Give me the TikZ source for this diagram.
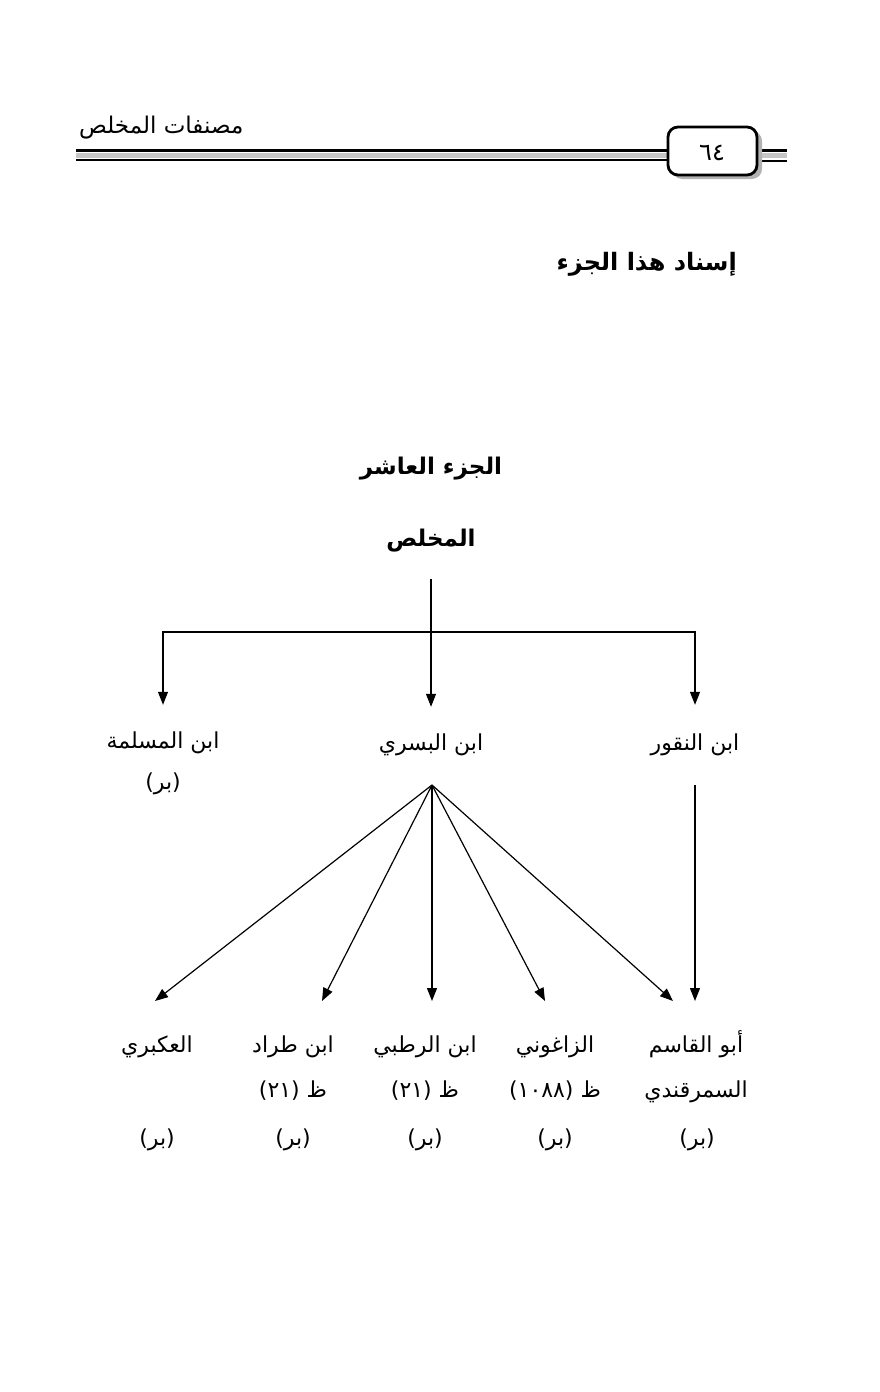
\documentclass[tikz,border=0pt]{standalone}
\usepackage{fontspec}
\usepackage{tikz}
\usetikzlibrary{positioning,arrows.meta}
\newfontfamily\arabicfont[Script=Arabic]{DejaVu Sans}
\TeXXeTstate=1
\newcommand{\artxt}[1]{\beginR #1\endR}

\begin{document}
\begin{tikzpicture}[x=1pt, y=-1pt,
		lbl/.style={font=\arabicfont\fontsize{22}{26}\selectfont, inner sep=0pt, text height=17pt, text depth=7pt},
		ttl/.style={font=\arabicfont\bfseries\fontsize{23}{28}\selectfont, inner sep=0pt, text height=18pt, text depth=8pt},
		arr/.style={-{Triangle[length=13pt,width=10pt]}, line width=1.2pt}
		]
		\useasboundingbox (0,0) rectangle (879,1392);
		% header
		\node[font=\arabicfont\fontsize{23}{27}\selectfont, inner sep=0pt, anchor=west] (book) at (79,128) {\artxt{مصنفات المخلص}};
		\fill[gray!45] (76,153) rectangle (668,158);
		\fill[gray!45] (757,153) rectangle (787,158);
		\draw[line width=3pt] (76,150) -- (668,150) (757,150.5) -- (787,150.5);
		\draw[line width=2.5pt] (76,160) -- (668,160) (757,161) -- (787,161);
		\fill[gray!60, rounded corners=10pt] (672,131) rectangle (762,179);
		\draw[line width=2.8pt, fill=white, rounded corners=10pt] (668,127) rectangle (757,175);
		\node[font=\arabicfont\fontsize{24}{28}\selectfont, inner sep=0pt] (page) at (712,153) {\artxt{٦٤}};
		
		\node[ttl, anchor=east, font=\arabicfont\bfseries\fontsize{24}{28}\selectfont] (isnad) at (737,265) {\artxt{إسناد هذا الجزء}};
		\node[ttl] (juz) at (431,469) {\artxt{الجزء العاشر}};
		\node[ttl] (mukh) at (431,541) {\artxt{المخلص}};
		
		\node[lbl] (muslima) at (163,743) {\artxt{ابن المسلمة}};
		\node[lbl] (muslimaB) at (163,784) {\artxt{(بر)}};
		\node[lbl] (busri) at (431,745) {\artxt{ابن البسري}};
		\node[lbl] (naqqur) at (695,745) {\artxt{ابن النقور}};
		
		\node[lbl] (ukbari) at (157,1047) {\artxt{العكبري}};
		\node[lbl] (ukbariB) at (157,1140) {\artxt{(بر)}};
		\node[lbl] (tarrad) at (293,1047) {\artxt{ابن طراد}};
		\node[lbl] (tarradD) at (293,1092) {\artxt{ظ (٢١)}};
		\node[lbl] (tarradB) at (293,1140) {\artxt{(بر)}};
		\node[lbl] (ratbi) at (425,1047) {\artxt{ابن الرطبي}};
		\node[lbl] (ratbiD) at (425,1092) {\artxt{ظ (٢١)}};
		\node[lbl] (ratbiB) at (425,1140) {\artxt{(بر)}};
		\node[lbl] (zagh) at (555,1047) {\artxt{الزاغوني}};
		\node[lbl] (zaghD) at (555,1092) {\artxt{ظ (١٠٨٨)}};
		\node[lbl] (zaghB) at (555,1140) {\artxt{(بر)}};
		\node[lbl] (samarq) at (696,1047) {\artxt{أبو القاسم}};
		\node[lbl] (samarqD) at (696,1092) {\artxt{السمرقندي}};
		\node[lbl] (samarqB) at (697,1140) {\artxt{(بر)}};
		
		% tree
		\coordinate (fork) at (431,632);
		\coordinate (fan) at (432,785);
		\coordinate (naqqurOut) at (695,785);
		\draw[arr, shorten <=25pt, shorten >=26pt] (mukh) -- (busri);
		\draw[arr, shorten >=26pt] (fork) -| (muslima);
		\draw[arr, shorten >=28pt] (fork) -| (naqqur);
		\draw[arr] (fan) -- (155,1001);
		\draw[arr] (fan) -- (322,1001);
		\draw[arr] (fan) -- (432,1001);
		\draw[arr] (fan) -- (545,1001);
		\draw[arr] (fan) -- (673,1001);
		\draw[arr] (naqqurOut) -- (695,1001);
	\end{tikzpicture}
\end{document}
